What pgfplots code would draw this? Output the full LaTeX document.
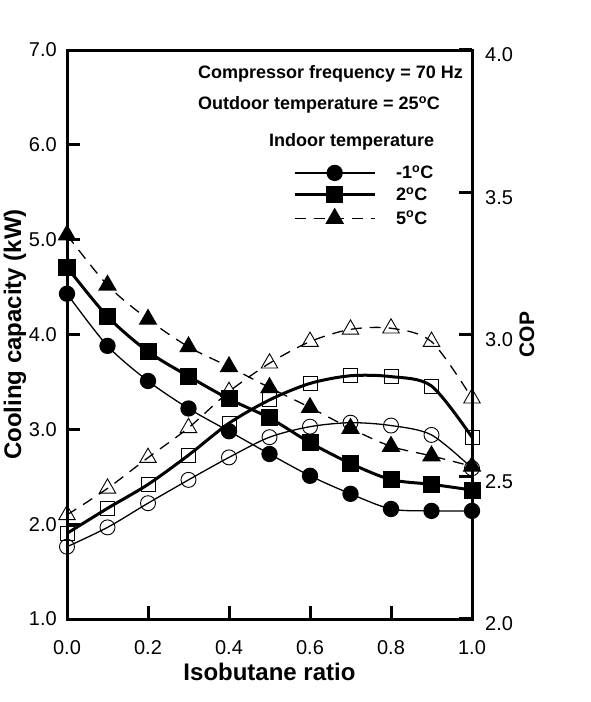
\documentclass[border=0pt]{standalone}
\usepackage{pgfplots}
\usepackage{pgfplotstable}
\pgfplotsset{compat=1.18}
\usepackage{fontspec}
\setmainfont{Liberation Sans}

\pgfplotstableread{
x    c1    c2    c5
0.0  4.43  4.71  5.05
0.1  3.88  4.19  4.52
0.2  3.51  3.82  4.16
0.3  3.22  3.56  3.87
0.4  2.98  3.32  3.66
0.5  2.74  3.12  3.44
0.6  2.51  2.86  3.23
0.7  2.32  2.64  3.01
0.8  2.16  2.47  2.82
0.9  2.14  2.42  2.72
1.0  2.14  2.36  2.61
}\capdata

\pgfplotstableread{
x    p1     p2     p5
0.0  2.254  2.301  2.366
0.1  2.322  2.389  2.459
0.2  2.407  2.473  2.567
0.3  2.489  2.576  2.672
0.4  2.568  2.688  2.799
0.5  2.639  2.770  2.899
0.6  2.676  2.828  2.975
0.7  2.690  2.855  3.018
0.8  2.680  2.852  3.022
0.9  2.647  2.819  2.975
1.0  2.530  2.639  2.776
}\copdata

\pgfplotsset{
  base/.style={
    at={(67pt,83pt)}, anchor=south west,
    width=405pt, height=569pt, scale only axis,
    xmin=0, xmax=1, clip=false,
    axis line style={line width=3pt, black},
    major tick style={line width=3pt, black},
    every tick/.append style={black},
    major tick length=13pt,
    tick align=inside,
    /pgf/number format/assume math mode=true,
    /pgf/number format/.cd, fixed, fixed zerofill, precision=1,
    /pgfplots/.cd,
    tick label style={font=\fontsize{20}{24}\selectfont},
  },
  thinl/.style={line width=1.3pt, smooth},
  thickl/.style={line width=3pt, smooth},
  dashl/.style={line width=1.3pt, smooth, dash pattern=on 11pt off 8pt},
}

\begin{document}
\begin{tikzpicture}
\useasboundingbox (0,0) rectangle (591pt,702pt);

\begin{axis}[base,
  ymin=1, ymax=7, ytick={1,2,...,7},
  xtick={0,0.2,...,1.0},
  xtick pos=bottom, ytick pos=left,
  xticklabel style={inner sep=0pt, anchor=north, yshift=-21pt},
  yticklabel style={inner sep=0pt, anchor=east, xshift=-10pt},
  xlabel={Isobutane ratio},
  xlabel style={font=\fontsize{24}{28}\selectfont\bfseries, at={(axis description cs:0.5,0)}, anchor=center, yshift=-53pt},
  ylabel={Cooling capacity (kW)},
  ylabel style={font=\fontsize{24}{28}\selectfont\bfseries, at={(axis description cs:0,0.5)}, anchor=center, yshift=52pt},
  legend image code/.code={\draw[mark repeat=2,mark phase=2,#1] plot coordinates {(0pt,0pt) (40pt,0pt) (80pt,0pt)};},
  legend style={draw=none, fill=none, inner sep=0pt, at={(axis description cs:0.558,0.7975)}, anchor=north west,
    font=\fontsize{18}{21}\selectfont\bfseries, row sep=7pt,
    nodes={inner sep=0pt, anchor=west},
    /tikz/every odd column/.append style={column sep=20pt}},
  legend cell align=left,
]
\addplot[thinl, black, mark=*, mark size=7.5pt] table[x=x, y=c1] {\capdata};
\addplot[thickl, black, mark=square*, mark size=7pt] table[x=x, y=c2] {\capdata};
\addplot[dashl, black, mark=triangle*, mark size=9.5pt, mark options={solid}] table[x=x, y=c5] {\capdata};
\legend{-1\textsuperscript{o}C, 2\textsuperscript{o}C, 5\textsuperscript{o}C}

\node[anchor=base west, inner sep=0pt, font=\fontsize{18}{21}\selectfont\bfseries] at (rel axis cs:0.3235,0.950) {Compressor frequency = 70 Hz};
\node[anchor=base west, inner sep=0pt, font=\fontsize{18}{21}\selectfont\bfseries] at (rel axis cs:0.3235,0.8954) {Outdoor temperature = 25\textsuperscript{o}C};
\node[anchor=base west, inner sep=0pt, font=\fontsize{18}{21}\selectfont\bfseries] at (rel axis cs:0.4988,0.8304) {Indoor temperature};
\end{axis}

\begin{axis}[base,
  ymin=2, ymax=4, ytick={2,2.5,...,4},
  axis x line=none, axis y line*=right,
  yticklabel style={inner sep=0pt, anchor=west, xshift=13pt, yshift=-5pt},
  ylabel={COP},
  ylabel style={font=\fontsize{21}{24}\selectfont\bfseries, at={(axis description cs:1,0.5)}, anchor=center, yshift=-55pt},
]
\addplot[thinl, black, mark=o, mark size=7.5pt, mark options={line width=0.9pt}] table[x=x, y=p1] {\copdata};
\addplot[thickl, black, mark=square, mark size=7pt, mark options={line width=0.9pt}] table[x=x, y=p2] {\copdata};
\addplot[dashl, black, mark=triangle, mark size=9.5pt, mark options={solid, line width=0.9pt}] table[x=x, y=p5] {\copdata};
\end{axis}
\end{tikzpicture}
\end{document}
